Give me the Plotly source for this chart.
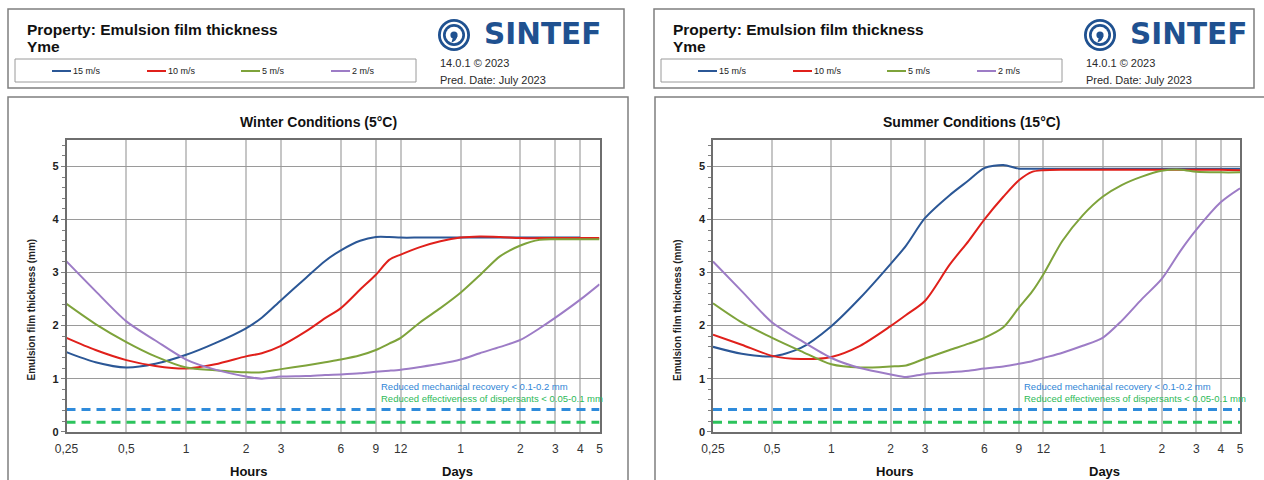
import math
import plotly.graph_objects as go

# -- figure size (px) ----------------------------------------------------------
W, H = 1264, 480

# -- data: emulsion film thickness (mm) vs time (hours) ----------------------
HOURS = [0.25, 0.35, 0.5, 0.7, 1, 1.4, 2, 2.4, 3, 4, 5, 6, 7.5, 9, 10.5, 12,
         15, 19, 24, 30, 38, 48, 60, 72, 96, 120]

WINTER_15 = [1.50, 1.31, 1.21, 1.28, 1.45, 1.67, 1.95, 2.15, 2.48, 2.90, 3.22, 3.42,
             3.60, 3.67, 3.67, 3.66, 3.66, 3.66, 3.66, 3.66, 3.66, 3.66, 3.66, 3.66,
             3.66, None]
WINTER_10 = [1.77, 1.54, 1.35, 1.24, 1.19, 1.27, 1.42, 1.48, 1.62, 1.89, 2.14, 2.33,
             2.68, 2.96, 3.24, 3.34, 3.48, 3.59, 3.66, 3.68, 3.67, 3.65, 3.65, 3.65,
             3.65, 3.65]
WINTER_5 = [2.41, 2.03, 1.69, 1.42, 1.21, 1.16, 1.12, 1.12, 1.18, 1.25, 1.31, 1.36,
            1.44, 1.54, 1.66, 1.77, 2.06, 2.33, 2.62, 2.95, 3.31, 3.51, 3.62, 3.63,
            3.63, 3.63]
WINTER_2 = [3.21, 2.65, 2.08, 1.72, 1.36, 1.17, 1.04, 1.00, 1.04, 1.05, 1.07, 1.08,
            1.10, 1.13, 1.15, 1.17, 1.22, 1.28, 1.36, 1.48, 1.60, 1.73, 1.95, 2.15,
            2.49, 2.78]

SUMMER_15 = [1.60, 1.47, 1.42, 1.58, 1.99, 2.52, 3.16, 3.51, 4.03, 4.46, 4.74, 4.97,
             5.03, 4.96, 4.96, 4.96, 4.96, 4.96, 4.96, 4.96, 4.96, 4.96, 4.96, 4.96,
             4.96, 4.96]
SUMMER_10 = [1.83, 1.64, 1.43, 1.37, 1.41, 1.62, 1.99, 2.20, 2.47, 3.15, 3.60, 4.00,
             4.43, 4.74, 4.90, 4.93, 4.94, 4.94, 4.94, 4.94, 4.94, 4.94, 4.94, 4.94,
             4.94, 4.93]
SUMMER_5 = [2.42, 2.06, 1.77, 1.52, 1.27, 1.21, 1.23, 1.25, 1.38, 1.54, 1.66, 1.77,
            1.97, 2.34, 2.64, 2.97, 3.60, 4.08, 4.43, 4.65, 4.81, 4.92, 4.94, 4.90,
            4.89, 4.89]
SUMMER_2 = [3.21, 2.65, 2.06, 1.72, 1.39, 1.20, 1.08, 1.03, 1.09, 1.12, 1.15, 1.19,
            1.23, 1.28, 1.33, 1.39, 1.49, 1.62, 1.77, 2.09, 2.50, 2.88, 3.42, 3.81,
            4.33, 4.59]

SPEEDS = ["15 m/s", "10 m/s", "5 m/s", "2 m/s"]
COLORS = ["#2b5796", "#e0201b", "#7ea33b", "#9d7cc6"]

MECH_LIMIT = 0.42   # reduced mechanical recovery line
DISP_LIMIT = 0.18   # reduced effectiveness of dispersants line

TICK_HOURS = [0.25, 0.5, 1, 2, 3, 6, 9, 12, 24, 48, 72, 96, 120]
TICK_TEXT = ["0,25", "0,5", "1", "2", "3", "6", "9", "12", "1", "2", "3", "4", "5"]

FONT = "Liberation Sans, Arial, sans-serif"


# page pixel -> paper coordinate
def px(x):
    return x / W


def py(y):
    return 1 - y / H


# -- panel layout -------------------------------------------------------------
panels = [
    dict(xa="x", ya="y", x0=66.5, x1=599.5, box=(8, 628), head=(8, 624),
         title="Winter Conditions (5°C)", title_x=318,
         series=[WINTER_15, WINTER_10, WINTER_5, WINTER_2]),
    dict(xa="x2", ya="y2", x0=713, x1=1240, box=(655, 1268), head=(654, 1254),
         title="Summer Conditions (15°C)", title_x=972,
         series=[SUMMER_15, SUMMER_10, SUMMER_5, SUMMER_2]),
]

fig = go.Figure()
shapes = []
annotations = []

for i, p in enumerate(panels):
    # curves
    for vals, color in zip(p["series"], COLORS):
        fig.add_trace(go.Scatter(
            x=HOURS, y=vals, mode="lines", xaxis=p["xa"], yaxis=p["ya"],
            line=dict(color=color, width=2, shape="spline", smoothing=0.8),
            showlegend=False, hoverinfo="x+y"))
    # threshold dashed lines
    fig.add_trace(go.Scatter(
        x=[TICK_HOURS[0], TICK_HOURS[-1]], y=[MECH_LIMIT, MECH_LIMIT], mode="lines",
        xaxis=p["xa"], yaxis=p["ya"], showlegend=False,
        line=dict(color="#2f8bdb", width=3, dash="9px,6px")))
    fig.add_trace(go.Scatter(
        x=[TICK_HOURS[0], TICK_HOURS[-1]], y=[DISP_LIMIT, DISP_LIMIT], mode="lines",
        xaxis=p["xa"], yaxis=p["ya"], showlegend=False,
        line=dict(color="#2cc35c", width=3, dash="9px,6px")))

    annotations += [
        dict(x=math.log10(9.3), y=0.85, xref=p["xa"], yref=p["ya"], xanchor="left",
             yanchor="middle", showarrow=False,
             text="Reduced mechanical recovery < 0.1-0.2 mm",
             font=dict(family=FONT, size=9.5, color="#2f86d6")),
        dict(x=math.log10(9.3), y=0.62, xref=p["xa"], yref=p["ya"], xanchor="left",
             yanchor="middle", showarrow=False,
             text="Reduced effectiveness of dispersants < 0.05-0.1 mm",
             font=dict(family=FONT, size=9.5, color="#2db957")),
    ]

    # axes
    suffix = "" if i == 0 else "2"
    fig.layout["xaxis" + suffix] = dict(
        type="log", range=[math.log10(0.25), math.log10(120)],
        domain=[px(p["x0"]), px(p["x1"])], anchor=p["ya"], automargin=False,
        tickvals=TICK_HOURS, ticktext=TICK_TEXT, ticks="outside", ticklen=5,
        tickcolor="rgba(0,0,0,0)", tickfont=dict(family=FONT, size=12, color="#333"),
        showgrid=True, gridcolor="#c6c6c6", gridwidth=1.5,
        showline=True, mirror=True, linecolor="#6e6e6e", linewidth=1.5,
        zeroline=False, fixedrange=True)
    fig.layout["yaxis" + suffix] = dict(
        range=[0, 5.5], domain=[py(431.7), py(140)], anchor=p["xa"], automargin=False,
        tickvals=[0, 1, 2, 3, 4, 5], ticks="outside", ticklen=4, tickcolor="#7f7f7f",
        tickfont=dict(family=FONT, size=11, color="#222", weight="bold"),
        minor=dict(dtick=0.2, ticks="outside", ticklen=3, tickcolor="#7f7f7f",
                   showgrid=False),
        showgrid=True, gridcolor="#9a9a9a", gridwidth=1.2,
        showline=True, mirror=True, linecolor="#6e6e6e", linewidth=1.5,
        zeroline=False, fixedrange=True)

    # boxes
    bx0, bx1 = p["box"]
    hx0, hx1 = p["head"]
    shapes += [
        dict(type="rect", xref="paper", yref="paper", x0=px(hx0), x1=px(hx1),
             y0=py(88), y1=py(9), line=dict(color="#7f7f7f", width=1.5)),
        dict(type="rect", xref="paper", yref="paper", x0=px(bx0), x1=px(bx1),
             y0=py(520), y1=py(97), line=dict(color="#7f7f7f", width=1.5)),
        dict(type="rect", xref="paper", yref="paper", x0=px(hx0 + 7), x1=px(hx0 + 408),
             y0=py(82), y1=py(59), line=dict(color="#9a9a9a", width=1)),
    ]

    # header texts
    head_font = dict(family=FONT, size=15.5, color="#111")
    annotations += [
        dict(x=px(hx0 + 17), y=py(29), text="<b>Property: Emulsion film thickness</b>",
             xanchor="left", yanchor="middle", font=head_font),
        dict(x=px(hx0 + 17), y=py(47), text="<b>Yme</b>", xanchor="left",
             yanchor="middle", font=head_font),
    ]

    # header legend
    for k, (name, color) in enumerate(zip(SPEEDS, COLORS)):
        lx = hx0 + [44, 139, 233, 323][k]
        shapes.append(dict(type="line", xref="paper", yref="paper", x0=px(lx),
                           x1=px(lx + 19), y0=py(71), y1=py(71),
                           line=dict(color=color, width=2)))
        annotations.append(dict(x=px(lx + 19), y=py(71), text=name, xanchor="left",
                                yanchor="middle",
                                font=dict(family="Liberation Sans Narrow, " + FONT,
                                          size=9, color="#222")))

    # SINTEF logo
    cx, cy = hx0 + 446, 35
    for r, col in [(16, "#1f5190"), (13.2, "white"), (11, "#1f5190"),
                   (8.3, "white"), (3.6, "#1f5190")]:
        shapes.append(dict(type="circle", xref="paper", yref="paper",
                           x0=px(cx - r), x1=px(cx + r), y0=py(cy + r), y1=py(cy - r),
                           fillcolor=col, line=dict(width=0)))
    shapes.append(dict(type="path", xref="paper", yref="paper",
                       path=f"M {px(cx + 3.4)} {py(cy + 1)} Q {px(cx + 2.5)} {py(cy + 6)} "
                            f"{px(cx - 2.5)} {py(cy + 7.5)} L {px(cx - 1)} {py(cy + 2)} Z",
                       fillcolor="#1f5190", line=dict(width=0)))
    annotations += [
        dict(x=px(hx0 + 474), y=py(34), text="<b>SINTEF</b>", xanchor="left",
             yanchor="middle", font=dict(family="DejaVu Sans, " + FONT, size=29.5,
                                         color="#1f5190")),
        dict(x=px(hx0 + 430), y=py(63), text="14.0.1 © 2023", xanchor="left",
             yanchor="middle", font=dict(family=FONT, size=11, color="#2a2a2a")),
        dict(x=px(hx0 + 430), y=py(80), text="Pred. Date: July 2023", xanchor="left",
             yanchor="middle", font=dict(family=FONT, size=11, color="#2a2a2a")),
    ]

    # chart title and axis labels
    annotations += [
        dict(x=px(p["title_x"]), y=py(122), text="<b>" + p["title"] + "</b>",
             xanchor="center", yanchor="middle",
             font=dict(family=FONT, size=14, color="#111")),
        dict(x=px(p["x0"] - 36), y=py(310), text="<b>Emulsion film thickness (mm)</b>",
             textangle=-90, xanchor="center", yanchor="middle",
             font=dict(family=FONT, size=10, color="#222")),
        dict(x=px(p["x0"] + 182), y=py(471), text="<b>Hours</b>", xanchor="center",
             yanchor="middle", font=dict(family=FONT, size=13, color="#111")),
        dict(x=px(p["x0"] + 391), y=py(471), text="<b>Days</b>", xanchor="center",
             yanchor="middle", font=dict(family=FONT, size=13, color="#111")),
    ]

for a in annotations:
    a.setdefault("xref", "paper")
    a.setdefault("yref", "paper")
    a.setdefault("showarrow", False)

fig.update_layout(
    width=W, height=H,
    margin=dict(l=0, r=0, t=0, b=0, pad=0, autoexpand=False),
    paper_bgcolor="white", plot_bgcolor="white",
    shapes=shapes, annotations=annotations, showlegend=False,
    font=dict(family=FONT),
)

# drop the default page margin so the figure fills the 1264x480 window exactly
fig.write_html("out.html", config={"displayModeBar": False},
               post_script="document.body.style.margin='0';"
                           "document.body.style.overflow='hidden';")
